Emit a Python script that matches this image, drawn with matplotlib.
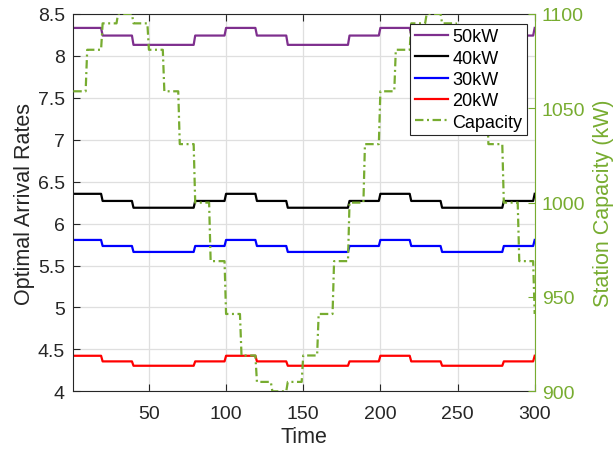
import numpy as np
import matplotlib
matplotlib.use("Agg")
import matplotlib.pyplot as plt

plt.rcParams['font.family'] = ['Liberation Sans', 'DejaVu Sans']

# Time axis (one sample per time step)
time = np.arange(1, 301)

# Station capacity (kW), one value per 10-step block
capacity_blocks = [1059, 1081, 1095, 1100, 1095, 1081, 1059, 1031, 1000, 969,
                   941, 919, 905, 900, 905, 919, 941, 969, 1000, 1031,
                   1059, 1081, 1095, 1100, 1095, 1081, 1059, 1031, 1000, 969,
                   941]

# Optimal arrival rates per charger power: 20-step blocks
rate_blocks_50kW = [8.333, 8.242, 8.131, 8.131, 8.242,
                    8.333, 8.242, 8.131, 8.131, 8.242,
                    8.333, 8.242, 8.131, 8.131, 8.242, 8.333]
rate_blocks_40kW = [6.355, 6.270, 6.189, 6.189, 6.270,
                    6.355, 6.270, 6.189, 6.189, 6.270,
                    6.355, 6.270, 6.189, 6.189, 6.270, 6.355]
rate_blocks_30kW = [5.805, 5.733, 5.662, 5.662, 5.733,
                    5.805, 5.733, 5.662, 5.662, 5.733,
                    5.805, 5.733, 5.662, 5.662, 5.733, 5.805]
rate_blocks_20kW = [4.424, 4.357, 4.305, 4.305, 4.357,
                    4.424, 4.357, 4.305, 4.305, 4.357,
                    4.424, 4.357, 4.305, 4.305, 4.357, 4.424]

series_labels = ['50kW', '40kW', '30kW', '20kW']
series_colors = ['#7E2F8E', '#000000', '#0000FF', '#FF0000']
cap_color = '#77AC30'
text_color = '#262626'

x_ticks = [50, 100, 150, 200, 250, 300]
left_ticks = [4, 4.5, 5, 5.5, 6, 6.5, 7, 7.5, 8, 8.5]
left_ticklabels = ['4', '4.5', '5', '5.5', '6', '6.5', '7', '7.5', '8', '8.5']
right_ticks = [900, 950, 1000, 1050, 1100]


def per_step(blocks, width):
    blocks = np.asarray(blocks, dtype=float)
    return blocks[time // width]


fig = plt.figure(figsize=(6.16, 4.52), dpi=100)
ax = fig.add_axes([0.119, 0.132, 0.749, 0.835])

handles = []
for blocks, lab, col in zip([rate_blocks_50kW, rate_blocks_40kW,
                             rate_blocks_30kW, rate_blocks_20kW],
                            series_labels, series_colors):
    h, = ax.plot(time, per_step(blocks, 20), color=col, lw=1.6, label=lab)
    handles.append(h)

ax.set_xlim(1, 300)
ax.set_ylim(4, 8.5)
ax.set_xticks(x_ticks)
ax.set_yticks(left_ticks)
ax.set_yticklabels(left_ticklabels)
ax.grid(True, color='#DFDFDF', lw=0.9)
ax.set_axisbelow(True)
ax.tick_params(axis='both', direction='in', labelsize=14, length=5,
               color=text_color, labelcolor=text_color, top=True, width=0.8)
ax.tick_params(axis='x', pad=10)
ax.tick_params(axis='y', pad=6)
ax.set_xlabel('Time', fontsize=15.5, color=text_color, labelpad=3)
ax.set_ylabel('Optimal Arrival Rates', fontsize=15.5, color=text_color,
              va='center')
ax.yaxis.set_label_coords(-0.106, 0.5)
for s in ['left', 'top', 'bottom']:
    ax.spines[s].set_color(text_color)
    ax.spines[s].set_linewidth(0.8)
ax.spines['right'].set_visible(False)

ax2 = ax.twinx()
h, = ax2.plot(time, per_step(capacity_blocks, 10), color=cap_color, lw=1.6,
              linestyle=(0, (3.8, 1.6, 0.9, 1.6)), label='Capacity')
handles.append(h)
ax2.set_ylim(900, 1100)
ax2.set_yticks(right_ticks)
ax2.tick_params(axis='y', direction='in', labelsize=14, length=5, pad=5,
                color=cap_color, labelcolor=cap_color, width=0.8)
ax2.set_ylabel('Station Capacity (kW)', fontsize=15.5, color=cap_color,
               va='center')
ax2.yaxis.set_label_coords(1.149, 0.5)
for s in ['left', 'top', 'bottom']:
    ax2.spines[s].set_visible(False)
ax2.spines['right'].set_color(cap_color)
ax2.spines['right'].set_linewidth(0.8)

leg = ax2.legend(handles=handles, loc='upper right',
                 bbox_to_anchor=(0.983, 0.974), fontsize=13,
                 frameon=True, fancybox=False, framealpha=1,
                 edgecolor=text_color, handlelength=1.85, handletextpad=0.22,
                 borderpad=0.25, labelspacing=0.24, borderaxespad=0)
leg.get_frame().set_linewidth(0.8)

fig.savefig('out.png', dpi=100)
